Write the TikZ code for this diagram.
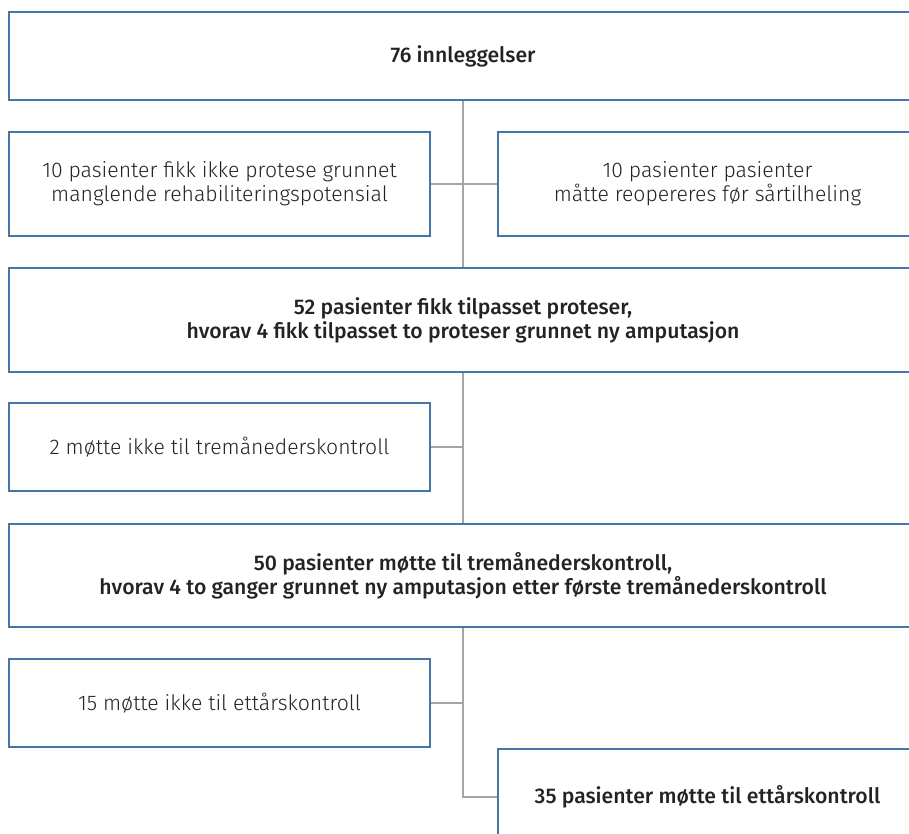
\documentclass[tikz,border=0pt]{standalone}
\usepackage{fontspec}
\setmainfont{Fira Sans}[UprightFont=* Light, BoldFont=* Medium]
\usetikzlibrary{positioning}
\definecolor{flowblue}{RGB}{68,118,168}
\definecolor{flowgray}{RGB}{165,165,165}
\definecolor{flowtext}{RGB}{35,35,35}

\tikzset{
  box/.style={draw=flowblue, line width=1.6pt, fill=white, text=flowtext,
    align=center, font=\fontsize{21.2}{24}\selectfont, inner sep=0pt},
  mainbox/.style={box, font=\fontsize{21.2}{24}\selectfont\bfseries},
  link/.style={draw=flowgray, line width=1.1pt}
}

\begin{document}
\begin{tikzpicture}[x=1pt,y=-1pt]
\useasboundingbox (0,0) rectangle (909,833);
\clip (0,0) rectangle (909,833);
% main column
\node[mainbox, minimum width=908pt, minimum height=88pt] (adm) at (463,56) {76 innleggelser};
\node[mainbox, minimum width=908pt, minimum height=104pt] (fit) at (463,320)
  {52 pasienter fikk tilpasset proteser,\\hvorav 4 fikk tilpasset to proteser grunnet ny amputasjon};
\node[mainbox, minimum width=908pt, minimum height=103pt] (three) at (463,575.5)
  {50 pasienter møtte til tremånederskontroll,\\hvorav 4 to ganger grunnet ny amputasjon etter første tremånederskontroll};
\node[mainbox, minimum width=419pt, minimum height=96pt] (year) at (707.5,797) {35 pasienter møtte til ettårskontroll};
% side boxes
\node[box, minimum width=421pt, minimum height=104pt] (norehab) at (219.5,184)
  {10 pasienter fikk ikke protese grunnet\\manglende rehabiliteringspotensial};
\node[box, minimum width=419pt, minimum height=104pt] (reop) at (707.5,184)
  {10 pasienter pasienter\\måtte reopereres før sårtilheling};
\node[box, minimum width=421pt, minimum height=88pt] (miss3) at (219.5,447) {2 møtte ikke til tremånederskontroll};
\node[box, minimum width=421pt, minimum height=88pt] (miss12) at (219.5,703) {15 møtte ikke til ettårskontroll};
% connectors
\draw[link] (adm.south) -- (fit.north);
\draw[link] (norehab.east) -- (reop.west);
\draw[link] (fit.south) -- (three.north);
\draw[link] (miss3.east) -- (miss3.east -| fit.south);
\draw[link] (three.south) |- (year.west);
\draw[link] (miss12.east) -- (miss12.east -| three.south);
\end{tikzpicture}
\end{document}
